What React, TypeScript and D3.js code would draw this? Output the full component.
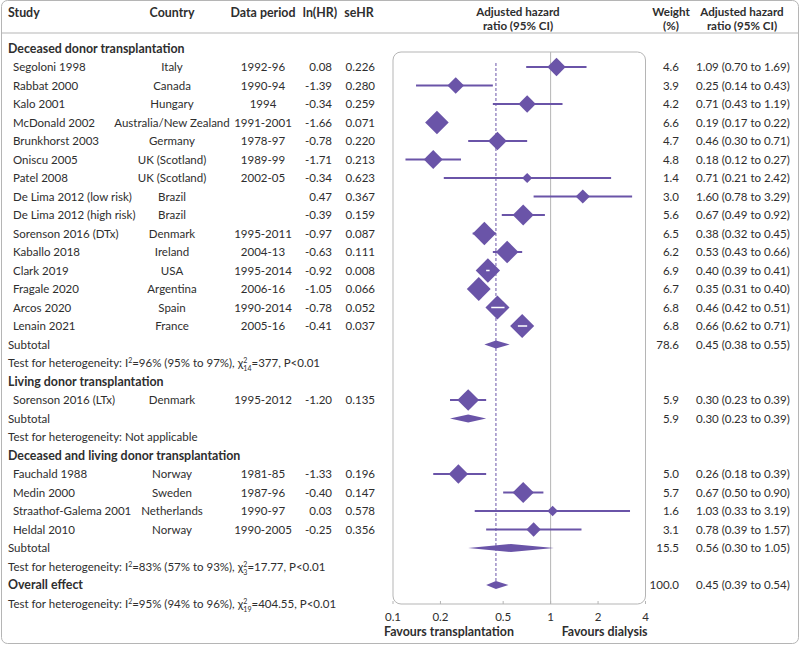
import React from "react";
import * as d3 from "d3";

// ---------- data ----------
const studyNames = [
  "Segoloni 1998", "Rabbat 2000", "Kalo 2001", "McDonald 2002", "Brunkhorst 2003",
  "Oniscu 2005", "Patel 2008", "De Lima 2012 (low risk)", "De Lima 2012 (high risk)",
  "Sorenson 2016 (DTx)", "Kaballo 2018", "Clark 2019", "Fragale 2020", "Arcos 2020",
  "Lenain 2021", "Sorenson 2016 (LTx)", "Fauchald 1988", "Medin 2000",
  "Straathof-Galema 2001", "Heldal 2010",
];
const countries = [
  "Italy", "Canada", "Hungary", "Australia/New Zealand", "Germany", "UK (Scotland)",
  "UK (Scotland)", "Brazil", "Brazil", "Denmark", "Ireland", "USA", "Argentina", "Spain",
  "France", "Denmark", "Norway", "Sweden", "Netherlands", "Norway",
];
const periods = [
  "1992-96", "1990-94", "1994", "1991-2001", "1978-97", "1989-99", "2002-05", "", "",
  "1995-2011", "2004-13", "1995-2014", "2006-16", "1990-2014", "2005-16", "1995-2012",
  "1981-85", "1987-96", "1990-97", "1990-2005",
];
const lnHR = [
  "0.08", "-1.39", "-0.34", "-1.66", "-0.78", "-1.71", "-0.34", "0.47", "-0.39", "-0.97",
  "-0.63", "-0.92", "-1.05", "-0.78", "-0.41", "-1.20", "-1.33", "-0.40", "0.03", "-0.25",
];
const seHR = [
  0.226, 0.28, 0.259, 0.071, 0.22, 0.213, 0.623, 0.367, 0.159, 0.087, 0.111, 0.008, 0.066,
  0.052, 0.037, 0.135, 0.196, 0.147, 0.578, 0.356,
];
const weights = [
  4.6, 3.9, 4.2, 6.6, 4.7, 4.8, 1.4, 3.0, 5.6, 6.5, 6.2, 6.9, 6.7, 6.8, 6.8, 5.9, 5.0, 5.7,
  1.6, 3.1,
];
const hrs = [
  1.09, 0.25, 0.71, 0.19, 0.46, 0.18, 0.71, 1.6, 0.67, 0.38, 0.53, 0.4, 0.35, 0.46, 0.66,
  0.3, 0.26, 0.67, 1.03, 0.78,
];
const ciLow = [
  0.7, 0.14, 0.43, 0.17, 0.3, 0.12, 0.21, 0.78, 0.49, 0.32, 0.43, 0.39, 0.31, 0.42, 0.62,
  0.23, 0.18, 0.5, 0.33, 0.39,
];
const ciHigh = [
  1.69, 0.43, 1.19, 0.22, 0.71, 0.27, 2.42, 3.29, 0.92, 0.45, 0.66, 0.41, 0.4, 0.51, 0.71,
  0.39, 0.39, 0.9, 3.19, 1.57,
];
const studyGroup = [0, 0, 0, 0, 0, 0, 0, 0, 0, 0, 0, 0, 0, 0, 0, 1, 2, 2, 2, 2];

const groupTitles = [
  "Deceased donor transplantation",
  "Living donor transplantation",
  "Deceased and living donor transplantation",
];
const subtotalWeights = [78.6, 5.9, 15.5];
const subtotalHR = [0.45, 0.3, 0.56];
const subtotalLow = [0.38, 0.23, 0.3];
const subtotalHigh = [0.55, 0.39, 1.05];
const hetI2 = ["96% (95% to 97%)", "", "83% (57% to 93%)"];
const hetDf = ["14", "", "3"];
const hetChi = ["377", "", "17.77"];

const overallWeight = 100.0;
const overallHR = 0.45;
const overallLow = 0.39;
const overallHigh = 0.54;
const overallI2 = "95% (94% to 96%)";
const overallDf = "19";
const overallChi = "404.55";

const axisTicks = [0.1, 0.2, 0.5, 1, 2, 4];

// ---------- layout ----------
const W = 800;
const H = 645;
const PURPLE = "#6a54a8";
const TEXT = "#2e2e2e";
const GRID = "#b5b5b5";
const FONT = "Lato, 'Noto Sans', sans-serif";
const FS = 11.5;
const FSB = 12.4;
const FSH = 11.6;
const ROW0 = 67;
const ROWH = 18.5;

const fmt2 = (v: number) => v.toFixed(2);
const fmtW = (v: number) => v.toFixed(1);

type Row =
  | { kind: "group"; title: string }
  | { kind: "study"; i: number }
  | { kind: "subtotal"; g: number }
  | { kind: "het"; i2: string; df: string; chi: string }
  | { kind: "overall" };

function buildRows(): Row[] {
  const rows: Row[] = [];
  groupTitles.forEach((title, g) => {
    rows.push({ kind: "group", title });
    studyNames.forEach((_, i) => {
      if (studyGroup[i] === g) rows.push({ kind: "study", i });
    });
    rows.push({ kind: "subtotal", g });
    rows.push({ kind: "het", i2: hetI2[g], df: hetDf[g], chi: hetChi[g] });
  });
  rows.push({ kind: "overall" });
  rows.push({ kind: "het", i2: overallI2, df: overallDf, chi: overallChi });
  return rows;
}

function HetText({ x, y, i2, df, chi }: { x: number; y: number; i2: string; df: string; chi: string }) {
  if (!i2) {
    return (
      <text x={x} y={y} dy="0.35em" fontSize={FS} fill={TEXT}>
        Test for heterogeneity: Not applicable
      </text>
    );
  }
  const small = 7;
  const supW = 3.9;
  return (
    <text x={x} y={y} dy="0.35em" fontSize={FS} fill={TEXT}>
      <tspan>Test for heterogeneity: I</tspan>
      <tspan fontSize={small} dy={-4}>2</tspan>
      <tspan dy={4}>{`=${i2}, χ`}</tspan>
      <tspan fontSize={small} dy={-4}>2</tspan>
      <tspan fontSize={small} dx={-supW} dy={8}>{df}</tspan>
      <tspan dy={-4}>{`=${chi}, P<0.01`}</tspan>
    </text>
  );
}

function TwoLine({ x, l1, l2 }: { x: number; l1: string; l2: string }) {
  return (
    <g>
      <text x={x} y={11.5} dy="0.35em" textAnchor="middle">{l1}</text>
      <text x={x} y={25.5} dy="0.35em" textAnchor="middle">{l2}</text>
    </g>
  );
}

export default function App() {
  const rows = buildRows();
  const x = d3.scaleLog().domain([0.1, 4]).range([393, 645.5]);
  const y = (r: number) => ROW0 + (r - 1) * ROWH;
  const half = d3.scaleLinear().domain([0, 7]).range([3.2, 12.3]);
  const boxTop = 52;
  const boxBottom = 604;
  const overallRowIdx = rows.findIndex((r) => r.kind === "overall");

  const diamondPath = (cx: number, cy: number, hw: number, hh: number) =>
    `M${cx - hw},${cy}L${cx},${cy - hh}L${cx + hw},${cy}L${cx},${cy + hh}Z`;

  const summaryDiamond = (hr: number, lo: number, hi: number, cy: number) =>
    `M${x(lo)},${cy}L${x(hr)},${cy - 4}L${x(hi)},${cy}L${x(hr)},${cy + 4}Z`;

  return (
    <svg
      width={W}
      height={H}
      style={{ position: "absolute", left: 0, top: 0, fontFamily: FONT }}
    >
      <rect x={0} y={0} width={W} height={H} fill="#fff" />
      <rect x={1.5} y={0.5} width={W - 3} height={H - 2} rx={6} fill="none" stroke={GRID} />
      <line x1={1.5} x2={W - 1.5} y1={33} y2={33} stroke={GRID} />

      {/* headers */}
      <g fontSize={FSB} fontWeight="bold" fill={TEXT}>
        <text x={8} y={13} dy="0.35em">Study</text>
        <text x={172} y={13} dy="0.35em" textAnchor="middle">Country</text>
        <text x={263} y={13} dy="0.35em" textAnchor="middle">Data period</text>
        <text x={320} y={13} dy="0.35em" textAnchor="middle">ln(HR)</text>
        <text x={359} y={13} dy="0.35em" textAnchor="middle">seHR</text>
      </g>
      <g fontSize={FSH} fontWeight="bold" fill={TEXT}>
        <TwoLine x={518} l1="Adjusted hazard" l2="ratio (95% CI)" />
        <TwoLine x={671} l1="Weight" l2="(%)" />
        <TwoLine x={742} l1="Adjusted hazard" l2="ratio (95% CI)" />
      </g>

      {/* plot box */}
      <rect
        x={x(0.1)}
        y={boxTop}
        width={x(4) - x(0.1)}
        height={boxBottom - boxTop}
        rx={8}
        fill="none"
        stroke={GRID}
      />
      <line x1={x(1)} x2={x(1)} y1={boxTop} y2={boxBottom} stroke={GRID} />
      {axisTicks.map((t) => (
        <g key={t}>
          <line x1={x(t)} x2={x(t)} y1={boxBottom} y2={boxBottom - 3} stroke={GRID} />
          <text
            x={x(t)}
            y={617}
            dy="0.35em"
            textAnchor="middle"
            fontSize={FS}
            fill={TEXT}
          >
            {String(t)}
          </text>
        </g>
      ))}
      <text x={x(0.1) - 9} y={632} dy="0.35em" fontSize={FSB} fontWeight="bold" fill={TEXT}>
        Favours transplantation
      </text>
      <text x={x(4) + 2} y={632} dy="0.35em" fontSize={FSB} fontWeight="bold" fill={TEXT} textAnchor="end">
        Favours dialysis
      </text>

      {/* overall dashed line */}
      <line
        x1={x(overallHR)}
        x2={x(overallHR)}
        y1={63}
        y2={y(overallRowIdx)}
        stroke={PURPLE}
        strokeWidth={1}
        strokeDasharray="3,2"
      />

      {rows.map((r, idx) => {
        const cy = y(idx);
        if (r.kind === "group") {
          return (
            <text key={idx} x={8} y={cy} dy="0.35em" fontSize={FSB} fontWeight="bold" fill={TEXT}>
              {r.title}
            </text>
          );
        }
        if (r.kind === "het") {
          return <HetText key={idx} x={8} y={cy} i2={r.i2} df={r.df} chi={r.chi} />;
        }
        if (r.kind === "subtotal") {
          const g = r.g;
          return (
            <g key={idx}>
              <text x={8} y={cy} dy="0.35em" fontSize={FS} fill={TEXT}>Subtotal</text>
              <path d={summaryDiamond(subtotalHR[g], subtotalLow[g], subtotalHigh[g], cy)} fill={PURPLE} />
              <text x={679} y={cy} dy="0.35em" fontSize={FS} fill={TEXT} textAnchor="end">
                {fmtW(subtotalWeights[g])}
              </text>
              <text x={696} y={cy} dy="0.35em" fontSize={FS} fill={TEXT}>
                {`${fmt2(subtotalHR[g])} (${fmt2(subtotalLow[g])} to ${fmt2(subtotalHigh[g])})`}
              </text>
            </g>
          );
        }
        if (r.kind === "overall") {
          return (
            <g key={idx}>
              <text x={8} y={cy} dy="0.35em" fontSize={FSB} fontWeight="bold" fill={TEXT}>Overall effect</text>
              <path d={summaryDiamond(overallHR, overallLow, overallHigh, cy)} fill={PURPLE} />
              <text x={679} y={cy} dy="0.35em" fontSize={FS} fill={TEXT} textAnchor="end">
                {fmtW(overallWeight)}
              </text>
              <text x={696} y={cy} dy="0.35em" fontSize={FS} fill={TEXT}>
                {`${fmt2(overallHR)} (${fmt2(overallLow)} to ${fmt2(overallHigh)})`}
              </text>
            </g>
          );
        }
        const i = r.i;
        const hw = half(weights[i]);
        const cx = x(hrs[i]);
        return (
          <g key={idx}>
            <text x={13} y={cy} dy="0.35em" fontSize={FS} fill={TEXT}>{studyNames[i]}</text>
            <text x={172} y={cy} dy="0.35em" fontSize={FS} fill={TEXT} textAnchor="middle">{countries[i]}</text>
            <text x={263} y={cy} dy="0.35em" fontSize={FS} fill={TEXT} textAnchor="middle">{periods[i]}</text>
            <text x={332} y={cy} dy="0.35em" fontSize={FS} fill={TEXT} textAnchor="end">{lnHR[i]}</text>
            <text x={375} y={cy} dy="0.35em" fontSize={FS} fill={TEXT} textAnchor="end">{seHR[i].toFixed(3)}</text>
            <line x1={x(ciLow[i])} x2={x(ciHigh[i])} y1={cy} y2={cy} stroke={PURPLE} strokeWidth={2} />
            <path d={diamondPath(cx, cy, hw, hw)} fill={PURPLE} />
            {seHR[i] < 0.06 && (
              <line x1={x(ciLow[i])} x2={x(ciHigh[i])} y1={cy} y2={cy} stroke="#fff" strokeWidth={1.5} />
            )}
            <text x={679} y={cy} dy="0.35em" fontSize={FS} fill={TEXT} textAnchor="end">{fmtW(weights[i])}</text>
            <text x={696} y={cy} dy="0.35em" fontSize={FS} fill={TEXT}>
              {`${fmt2(hrs[i])} (${fmt2(ciLow[i])} to ${fmt2(ciHigh[i])})`}
            </text>
          </g>
        );
      })}
    </svg>
  );
}
